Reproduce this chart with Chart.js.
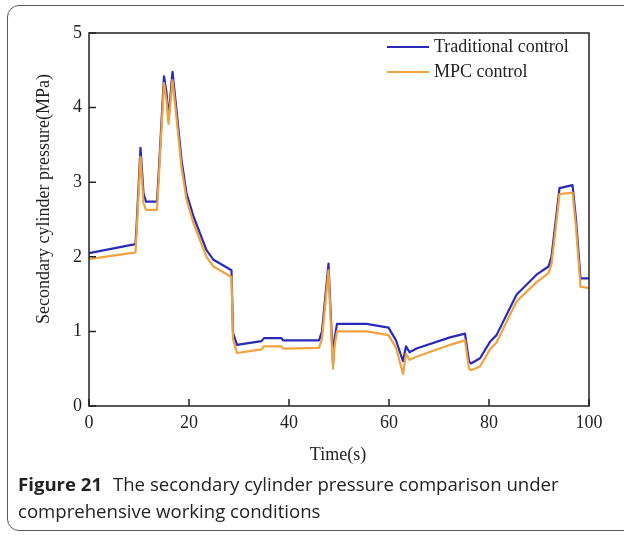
<!DOCTYPE html>
<html>
<head>
<meta charset="utf-8">
<script src="https://cdn.jsdelivr.net/npm/chart.js@4/dist/chart.umd.min.js"></script>
<style>
  html, body { margin: 0; padding: 0; background: #fff; }
  #wrap { position: relative; width: 624px; height: 535px; overflow: hidden; }
  #chart { position: absolute; left: 0; top: 0; }
  #frame {
    position: absolute; left: 7px; top: 5px; width: 660px; height: 526px;
    border: 1px solid #555; border-radius: 12px; box-sizing: border-box;
  }
  #caption {
    position: absolute; left: 18px; top: 470px; width: 600px;
    font-family: "Open Sans", sans-serif; font-size: 18.6px; line-height: 27px; color: #222;
  }
  #caption b { font-weight: 700; margin-right: 6px; }
</style>
</head>
<body>
<div id="wrap">
  <div id="frame"></div>
  <canvas id="chart" width="624" height="535"></canvas>
  <div id="caption"><b>Figure 21</b> The secondary cylinder pressure comparison under comprehensive working conditions</div>
</div>
<script>
// time (s) and pressure (MPa) for both controllers
const timeS = [0, 9.3, 9.5, 10.3, 10.9, 11.4, 13.6, 14.0, 15.0, 15.5, 15.9, 16.7, 17.6, 18.5, 19.5, 20.9, 23.5, 24.9, 28.5, 28.8, 29.6,
  34.5, 35.0, 38.5, 38.8, 46.0, 46.6, 47.9, 48.3, 48.8, 49.1, 49.6, 55.5, 59.9, 61.4, 62.8, 63.4, 64.1, 65.5, 72.2, 75.2,
  76.0, 76.4, 78.2, 80.2, 81.5, 85.5, 89.5, 91.9, 92.5, 93.2, 94.1, 96.7, 97.4, 98.3, 100];
const traditional = [2.05, 2.17, 2.40, 3.46, 2.85, 2.74, 2.74, 3.20, 4.42, 4.20, 3.85, 4.48, 3.90, 3.30, 2.85, 2.54, 2.09, 1.96, 1.82, 0.98, 0.82,
  0.87, 0.91, 0.91, 0.88, 0.88, 1.00, 1.91, 1.30, 0.58, 0.90, 1.10, 1.10, 1.05, 0.88, 0.60, 0.80, 0.72, 0.77, 0.92, 0.97,
  0.60, 0.57, 0.64, 0.86, 0.95, 1.49, 1.76, 1.87, 2.00, 2.40, 2.92, 2.96, 2.50, 1.71, 1.71];
const mpc = [1.97, 2.06, 2.30, 3.34, 2.72, 2.63, 2.63, 3.10, 4.33, 4.10, 3.78, 4.37, 3.80, 3.20, 2.77, 2.45, 2.00, 1.87, 1.73, 0.90, 0.71,
  0.76, 0.80, 0.80, 0.77, 0.78, 0.90, 1.82, 1.20, 0.50, 0.80, 1.00, 1.00, 0.95, 0.78, 0.43, 0.70, 0.62, 0.66, 0.82, 0.88,
  0.50, 0.48, 0.53, 0.76, 0.85, 1.40, 1.66, 1.78, 1.90, 2.30, 2.84, 2.86, 2.40, 1.60, 1.58];
const seriesNames = ['Traditional control', 'MPC control'];
const seriesColors = ['#2a2ab8', '#f0a23c'];
const xTicks = [0, 20, 40, 60, 80, 100];
const yTicks = [0, 1, 2, 3, 4, 5];
const xTitle = 'Time(s)';
const yTitle = 'Secondary cylinder pressure(MPa)';

const serif = '"Liberation Serif", "Times New Roman", serif';
const ink = '#222';

const toPoints = (ys) => timeS.map((t, i) => ({ x: t, y: ys[i] }));

// box around the plot, inward ticks, axis titles and the legend
const decorations = {
  id: 'decorations',
  afterDraw(chart) {
    const { ctx, chartArea: a, scales: { x, y } } = chart;
    ctx.save();
    ctx.strokeStyle = ink;
    ctx.lineWidth = 1.5;
    ctx.strokeRect(a.left, a.top, a.right - a.left, a.bottom - a.top);
    ctx.beginPath();
    xTicks.forEach(v => {
      const px = x.getPixelForValue(v);
      ctx.moveTo(px, a.bottom);
      ctx.lineTo(px, a.bottom - 7);
    });
    yTicks.forEach(v => {
      const py = y.getPixelForValue(v);
      ctx.moveTo(a.left, py);
      ctx.lineTo(a.left + 7, py);
    });
    ctx.stroke();

    ctx.fillStyle = ink;
    ctx.font = '18px ' + serif;
    ctx.textAlign = 'center';
    ctx.textBaseline = 'middle';
    ctx.fillText(xTitle, (a.left + a.right) / 2 - 1, 455);
    ctx.save();
    ctx.translate(44, 199);
    ctx.rotate(-Math.PI / 2);
    ctx.fillText(yTitle, 0, 0);
    ctx.restore();

    // legend
    ctx.textAlign = 'left';
    seriesNames.forEach((name, i) => {
      const ly = 47 + i * 25;
      ctx.strokeStyle = seriesColors[i];
      ctx.lineWidth = 2;
      ctx.beginPath();
      ctx.moveTo(387, ly);
      ctx.lineTo(429, ly);
      ctx.stroke();
      ctx.fillStyle = ink;
      ctx.fillText(name, 434, ly);
    });
    ctx.restore();
  }
};

new Chart(document.getElementById('chart'), {
  type: 'line',
  data: {
    datasets: [
      { label: seriesNames[0], data: toPoints(traditional), borderColor: seriesColors[0], borderWidth: 2.2, order: 1 },
      { label: seriesNames[1], data: toPoints(mpc), borderColor: seriesColors[1], borderWidth: 2.2, order: 0 }
    ]
  },
  options: {
    responsive: false,
    animation: false,
    devicePixelRatio: 1,
    layout: { padding: { left: 29, top: 33, right: 35, bottom: 69 } },
    elements: { point: { radius: 0 }, line: { tension: 0, borderJoinStyle: 'round' } },
    plugins: { legend: { display: false }, tooltip: { enabled: false } },
    scales: {
      x: {
        type: 'linear', min: 0, max: 100,
        afterBuildTicks: s => { s.ticks = xTicks.map(v => ({ value: v })); },
        afterFit: s => { s.height = 60; },
        grid: { display: false, drawTicks: false },
        border: { display: false },
        ticks: { padding: 6, maxRotation: 0, color: ink, font: { family: serif, size: 18 } }
      },
      y: {
        min: 0, max: 5,
        afterBuildTicks: s => { s.ticks = yTicks.map(v => ({ value: v })); },
        afterFit: s => { s.width = 60; },
        grid: { display: false, drawTicks: false },
        border: { display: false },
        ticks: { padding: 7, color: ink, font: { family: serif, size: 18 } }
      }
    }
  },
  plugins: [decorations]
});
</script>
</body>
</html>
